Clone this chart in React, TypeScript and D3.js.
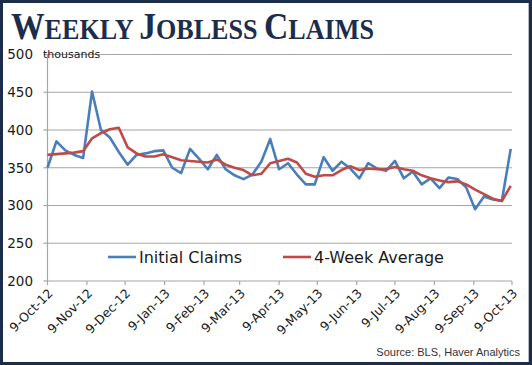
import * as d3 from 'd3'

const parseDay = d3.timeParse('%d-%b-%y')
const fmtDay = d3.timeFormat('%-d-%b-%y')

const xTickLabels = ['9-Oct-12', '9-Nov-12', '9-Dec-12', '9-Jan-13', '9-Feb-13', '9-Mar-13', '9-Apr-13', '9-May-13', '9-Jun-13', '9-Jul-13', '9-Aug-13', '9-Sep-13', '9-Oct-13']
const yTicks = [200, 250, 300, 350, 400, 450, 500]

// weekly, thousands
const initialClaims = [350, 385, 373, 367, 363, 451, 400, 390, 371, 354, 367, 369, 372, 373, 350, 343, 375, 362, 348, 367, 348, 340, 335, 341, 358, 388, 348, 356, 341, 328, 328, 364, 346, 358, 349, 336, 356, 349, 346, 359, 336, 345, 328, 336, 323, 337, 335, 324, 295, 312, 308, 306, 375]
const fourWeekAvg = [367, 368, 369, 370, 372, 389, 396, 401, 403, 377, 369, 365, 365, 368, 364, 360, 359, 358, 357, 361, 354, 350, 347, 340, 342, 356, 359, 362, 357, 342, 338, 340, 340, 347, 352, 347, 349, 348, 348, 351, 348, 346, 340, 336, 333, 331, 332, 328, 321, 315, 309, 306, 326]

const seriesNames = ['Initial Claims', '4-Week Average']
const seriesColors = ['#4a7ebb', '#be4b48']

const W = 532
const H = 365
const navy = '#1c2d4b'
const sans = 'DejaVu Sans, sans-serif'

export default function App() {
  const tickDates = xTickLabels.map(s => parseDay(s)!)
  const start = tickDates[0]
  const weeks = initialClaims.map((_, i) => d3.timeDay.offset(start, 7 * i))

  const x = d3.scaleTime().domain([start, tickDates[tickDates.length - 1]]).range([47.5, 512])
  const y = d3.scaleLinear().domain([200, 500]).range([281, 54.5])
  const [x0, x1] = x.range()

  const line = d3.line<number>()
    .x((_, i) => x(weeks[i]))
    .y(d => y(d))

  const series = [initialClaims, fourWeekAvg]

  return (
    <svg width={W} height={H} style={{ display: 'block', background: '#fff' }}>
      <style>{'body{margin:0}'}</style>
      <rect x={1.5} y={1.5} width={W - 3} height={H - 3} fill="#fff" stroke={navy} strokeWidth={3} />
      <line x1={W - 3.5} x2={W - 3.5} y1={3} y2={H - 3} stroke="#b8b8b8" strokeWidth={1} />

      {/* title */}
      <text transform="translate(11,38.5) scale(0.885,1)" fill={navy} fontFamily="Liberation Serif, serif" fontWeight="bold">
        <tspan fontSize={38}>W</tspan>
        <tspan fontSize={29.5}>EEKLY </tspan>
        <tspan fontSize={38}>J</tspan>
        <tspan fontSize={29.5}>OBLESS </tspan>
        <tspan fontSize={38}>C</tspan>
        <tspan fontSize={29.5}>LAIMS</tspan>
      </text>

      {/* grid */}
      {yTicks.filter(t => t > 200).map(t => (
        <line key={t} x1={x0} x2={x1} y1={y(t)} y2={y(t)} stroke="#a6a6a6" strokeWidth={1.2} />
      ))}

      {/* y axis */}
      <line x1={x0} x2={x0} y1={y(500)} y2={y(200)} stroke="#a6a6a6" strokeWidth={1.2} />
      {yTicks.map(t => (
        <g key={t}>
          <line x1={x0 - 4} x2={x0} y1={y(t)} y2={y(t)} stroke="#a6a6a6" strokeWidth={1.2} />
          <text x={33} y={y(t)} dy="0.36em" textAnchor="end" fontFamily={sans} fontSize={13.5} fill="#1a1a1a">{t}</text>
        </g>
      ))}
      <text x={43} y={58} fontFamily={sans} fontSize={11} fill="#1a1a1a">thousands</text>

      {/* x axis */}
      <line x1={x0} x2={x1} y1={y(200)} y2={y(200)} stroke="#a6a6a6" strokeWidth={1.2} />
      {tickDates.map(d => (
        <g key={+d} transform={`translate(${x(d)},${y(200)})`}>
          <line y1={0} y2={4} stroke="#a6a6a6" strokeWidth={1.2} />
          <text transform="translate(3,10) rotate(-45)" textAnchor="end" dy="0.35em" fontFamily={sans} fontSize={12.5} fill="#1a1a1a">{fmtDay(d)}</text>
        </g>
      ))}

      {/* lines */}
      {series.map((s, i) => (
        <path key={i} d={line(s)!} fill="none" stroke={seriesColors[i]} strokeWidth={2.6} strokeLinejoin="round" />
      ))}

      {/* legend */}
      {seriesNames.map((n, i) => {
        const lx = i === 0 ? 108 : 283
        return (
          <g key={n} transform={`translate(${lx},257)`}>
            <line x1={0} x2={28} y1={0} y2={0} stroke={seriesColors[i]} strokeWidth={2.6} />
            <text x={31} y={0} dy="0.36em" fontFamily={sans} fontSize={16} fill="#1a1a1a">{n}</text>
          </g>
        )
      })}

      <text x={520} y={356} textAnchor="end" fontFamily="Liberation Sans, Arial, sans-serif" fontSize={11} fill="#333">Source:  BLS, Haver Analytics</text>
    </svg>
  )
}
